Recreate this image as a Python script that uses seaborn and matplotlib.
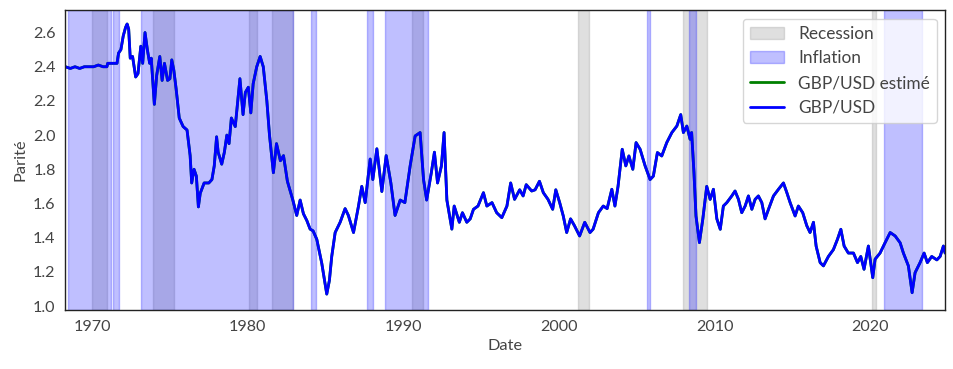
import pandas as pd
import matplotlib.pyplot as plt
import seaborn as sns

# GBP/USD values (decimal year, rate)
years = [1968.28, 1968.6, 1968.9, 1969.2, 1969.5, 1969.8, 1970.1, 1970.4, 1970.7, 1970.95,
         1971.0, 1971.3, 1971.6, 1971.7, 1971.85, 1972.0, 1972.15, 1972.25, 1972.35, 1972.45,
         1972.6, 1972.8, 1972.95, 1973.13, 1973.25, 1973.4, 1973.55, 1973.7, 1973.8, 1974.0,
         1974.15, 1974.35, 1974.5, 1974.65, 1974.85, 1975.0, 1975.12, 1975.25, 1975.4, 1975.6,
         1975.85, 1976.1, 1976.3, 1976.4, 1976.55, 1976.7, 1976.83, 1976.95, 1977.2, 1977.5,
         1977.7, 1977.85, 1978.0, 1978.1, 1978.33, 1978.5, 1978.66, 1978.8, 1978.95, 1979.2,
         1979.5, 1979.7, 1979.85, 1980.04, 1980.2, 1980.35, 1980.58, 1980.8, 1981.0, 1981.23,
         1981.4, 1981.65, 1981.85, 1982.1, 1982.3, 1982.55, 1982.9, 1983.15, 1983.37, 1983.58,
         1983.8, 1984.01, 1984.2, 1984.44, 1984.65, 1984.76, 1985.08, 1985.25, 1985.4, 1985.62,
         1985.94, 1986.26, 1986.47, 1986.8, 1987.12, 1987.33, 1987.55, 1987.87, 1988.04, 1988.3,
         1988.62, 1988.9, 1989.2, 1989.47, 1989.8, 1990.1, 1990.44, 1990.76, 1991.08, 1991.3,
         1991.5, 1991.8, 1992.0, 1992.2, 1992.45, 1992.62, 1992.8, 1993.12, 1993.27, 1993.6,
         1993.8, 1994.08, 1994.3, 1994.51, 1994.8, 1995.15, 1995.37, 1995.7, 1996.0, 1996.33,
         1996.66, 1996.9, 1997.15, 1997.48, 1997.7, 1997.9, 1998.25, 1998.47, 1998.75, 1999.0,
         1999.3, 1999.6, 1999.8, 2000.05, 2000.28, 2000.5, 2000.75, 2001.0, 2001.33, 2001.66,
         2002.0, 2002.2, 2002.54, 2002.85, 2003.1, 2003.4, 2003.6, 2003.8, 2004.07, 2004.3,
         2004.5, 2004.75, 2004.96, 2005.22, 2005.54, 2005.86, 2006.07, 2006.33, 2006.61, 2006.93,
         2007.26, 2007.58, 2007.83, 2008.0, 2008.22, 2008.43, 2008.53, 2008.68, 2008.81, 2009.03,
         2009.25, 2009.5, 2009.72, 2009.93, 2010.15, 2010.37, 2010.57, 2010.79, 2011.11, 2011.32,
         2011.54, 2011.75, 2011.97, 2012.18, 2012.4, 2012.61, 2012.82, 2013.04, 2013.25, 2013.47,
         2013.79, 2014.11, 2014.43, 2014.65, 2014.86, 2015.18, 2015.39, 2015.67, 2015.93, 2016.14,
         2016.36, 2016.53, 2016.79, 2017.0, 2017.32, 2017.64, 2017.9, 2018.12, 2018.33, 2018.6,
         2018.93, 2019.19, 2019.4, 2019.61, 2019.89, 2020.17, 2020.32, 2020.64, 2020.96, 2021.29,
         2021.61, 2021.93, 2022.14, 2022.46, 2022.7, 2022.89, 2023.21, 2023.47, 2023.68, 2023.96,
         2024.29, 2024.5, 2024.71, 2024.82]
gbpusd = [2.40, 2.39, 2.40, 2.39, 2.40, 2.40, 2.40, 2.41, 2.40, 2.40,
          2.42, 2.42, 2.42, 2.48, 2.50, 2.58, 2.63, 2.65, 2.62, 2.45,
          2.46, 2.34, 2.36, 2.52, 2.42, 2.60, 2.50, 2.42, 2.45, 2.18,
          2.35, 2.46, 2.32, 2.42, 2.32, 2.33, 2.44, 2.38, 2.27, 2.10,
          2.05, 2.03, 1.88, 1.72, 1.80, 1.76, 1.58, 1.66, 1.72, 1.72,
          1.74, 1.82, 1.99, 1.90, 1.83, 1.90, 2.00, 1.95, 2.10, 2.05,
          2.33, 2.12, 2.25, 2.28, 2.13, 2.30, 2.40, 2.46, 2.40, 2.20,
          2.00, 1.78, 1.95, 1.85, 1.88, 1.73, 1.62, 1.53, 1.62, 1.54,
          1.50, 1.45, 1.44, 1.39, 1.30, 1.25, 1.07, 1.15, 1.29, 1.43,
          1.49, 1.57, 1.53, 1.43, 1.585, 1.70, 1.605, 1.86, 1.74, 1.92,
          1.67, 1.88, 1.72, 1.53, 1.62, 1.605, 1.82, 1.995, 2.015, 1.74,
          1.62, 1.78, 1.90, 1.72, 1.82, 2.015, 1.62, 1.45, 1.585, 1.49,
          1.546, 1.49, 1.51, 1.566, 1.585, 1.663, 1.585, 1.605, 1.546, 1.517,
          1.585, 1.72, 1.624, 1.68, 1.644, 1.71, 1.673, 1.68, 1.73, 1.663,
          1.624, 1.566, 1.68, 1.605, 1.527, 1.43, 1.51, 1.47, 1.41, 1.49,
          1.43, 1.45, 1.546, 1.585, 1.57, 1.683, 1.585, 1.70, 1.917, 1.82,
          1.878, 1.80, 1.956, 1.917, 1.82, 1.74, 1.76, 1.898, 1.878, 1.956,
          2.015, 2.053, 2.12, 2.015, 2.053, 1.976, 2.015, 1.78, 1.527, 1.371,
          1.51, 1.70, 1.624, 1.683, 1.51, 1.449, 1.585, 1.605, 1.644, 1.673,
          1.624, 1.546, 1.585, 1.644, 1.566, 1.624, 1.644, 1.605, 1.51, 1.566,
          1.644, 1.683, 1.72, 1.663, 1.605, 1.527, 1.585, 1.546, 1.47, 1.43,
          1.49, 1.351, 1.254, 1.235, 1.29, 1.33, 1.39, 1.449, 1.351, 1.31,
          1.31, 1.254, 1.29, 1.215, 1.351, 1.166, 1.274, 1.31, 1.37, 1.43,
          1.41, 1.37, 1.31, 1.235, 1.078, 1.195, 1.254, 1.31, 1.254, 1.29,
          1.27, 1.29, 1.351, 1.31]
gbpusd_est = list(gbpusd)

# shaded periods (start, end) in decimal years
recessions = [(1970.0, 1970.96), (1973.92, 1975.25), (1980.09, 1980.58), (1981.57, 1982.9),
              (1990.55, 1991.27), (2001.23, 2001.92), (2008.0, 2009.5), (2020.15, 2020.38)]
inflation = [(1968.42, 1971.2), (1971.33, 1971.74), (1973.15, 1982.94), (1984.05, 1984.4),
             (1987.67, 1988.04), (1988.85, 1991.57), (2005.69, 2005.86), (2008.37, 2008.82),
             (2020.88, 2023.32)]

df = pd.DataFrame({"Date": years, "GBP/USD": gbpusd, "GBP/USD estimé": gbpusd_est})

sns.set_style("white")
plt.rcParams['font.family'] = ['Lato', 'DejaVu Sans']
plt.rcParams['text.color'] = '#444444'
plt.rcParams['axes.labelcolor'] = '#444444'
plt.rcParams['xtick.color'] = '#444444'
plt.rcParams['ytick.color'] = '#444444'

fig, ax = plt.subplots(figsize=(9.54, 3.69), dpi=100)
fig.subplots_adjust(left=0.0685, right=0.991, top=0.972, bottom=0.16)

for i, (a, b) in enumerate(recessions):
    ax.axvspan(a, b, color='grey', alpha=0.25, label='Recession' if i == 0 else None)
for i, (a, b) in enumerate(inflation):
    ax.axvspan(a, b, color='blue', alpha=0.25, label='Inflation' if i == 0 else None)

sns.lineplot(data=df, x="Date", y="GBP/USD estimé", color='green', linewidth=2.0,
             label='GBP/USD estimé', ax=ax)
sns.lineplot(data=df, x="Date", y="GBP/USD", color='blue', linewidth=2.0,
             label='GBP/USD', ax=ax)

ax.set_xlim(1968.28, 2024.84)
ax.set_ylim(0.977, 2.73)
ax.set_xticks([1970, 1980, 1990, 2000, 2010, 2020])
ax.set_yticks([1.0, 1.2, 1.4, 1.6, 1.8, 2.0, 2.2, 2.4, 2.6])
ax.tick_params(labelsize=11.6)
ax.set_xlabel('Date', fontsize=11.8)
ax.set_ylabel('Parité', fontsize=11.8)
for s in ax.spines.values():
    s.set_color('#222222')
    s.set_linewidth(1.0)

ax.legend(loc='upper right', fontsize=12.4)

plt.savefig('out.png', dpi=100)
